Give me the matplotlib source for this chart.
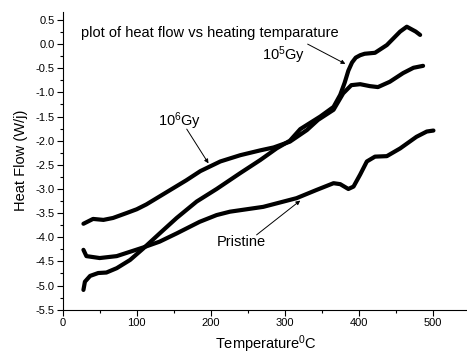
import matplotlib
matplotlib.use("Agg")
import matplotlib.pyplot as plt
from matplotlib.ticker import MultipleLocator, FormatStrFormatter

plt.rcParams['font.family'] = 'Liberation Sans'
plt.rcParams['mathtext.default'] = 'regular'
plt.rcParams['axes.unicode_minus'] = False

# 10^5 Gy
t_1e5 = [28, 30, 37, 48, 59, 73, 91, 109, 131, 154, 181, 208, 240, 267, 289, 307,
         321, 348, 366, 375, 381, 386, 391, 396, 402, 408, 422, 438, 456, 465, 477, 483]
hf_1e5 = [-5.09, -4.92, -4.80, -4.74, -4.73, -4.64, -4.47, -4.23, -3.92, -3.60, -3.26,
          -3.00, -2.67, -2.40, -2.16, -2.00, -1.76, -1.50, -1.30, -1.05, -0.80, -0.55,
          -0.38, -0.28, -0.23, -0.20, -0.18, -0.02, 0.26, 0.36, 0.26, 0.19]

# 10^6 Gy
t_1e6 = [28, 41, 55, 68, 86, 100, 113, 140, 167, 186, 213, 240, 267, 285, 307, 330,
         345, 366, 379, 390, 402, 415, 426, 442, 460, 474, 487]
hf_1e6 = [-3.72, -3.62, -3.64, -3.60, -3.50, -3.42, -3.32, -3.07, -2.82, -2.63, -2.43,
          -2.30, -2.20, -2.14, -2.02, -1.78, -1.57, -1.36, -1.02, -0.85, -0.83, -0.87,
          -0.89, -0.78, -0.60, -0.49, -0.45]

# pristine
t_pr = [28, 32, 50, 73, 91, 109, 131, 154, 185, 208, 226, 271, 316, 343, 366, 375,
        386, 393, 402, 411, 422, 438, 456, 478, 492, 501]
hf_pr = [-4.26, -4.39, -4.43, -4.39, -4.30, -4.21, -4.09, -3.92, -3.68, -3.54, -3.47,
         -3.37, -3.19, -3.02, -2.88, -2.90, -3.00, -2.95, -2.70, -2.43, -2.33, -2.32,
         -2.16, -1.92, -1.81, -1.79]

fig = plt.figure(figsize=(4.67, 3.56), dpi=100)
ax = fig.add_axes([0.1343, 0.130, 0.8715, 0.837])

for x, y in [(t_1e5, hf_1e5), (t_1e6, hf_1e6), (t_pr, hf_pr)]:
    ax.plot(x, y, color='black', lw=3.0, solid_capstyle='round', solid_joinstyle='round')

ax.set_xlim(0, 550)
ax.set_ylim(-5.5, 0.67)
ax.xaxis.set_major_locator(MultipleLocator(100))
ax.xaxis.set_minor_locator(MultipleLocator(50))
ax.yaxis.set_major_locator(MultipleLocator(0.5))
ax.yaxis.set_minor_locator(MultipleLocator(0.25))
ax.yaxis.set_major_formatter(FormatStrFormatter('%.1f'))
ax.spines['top'].set_visible(False)
ax.spines['right'].set_visible(False)
ax.tick_params(which='major', direction='out', length=4, width=0.8, labelsize=8, pad=2)
ax.tick_params(which='minor', direction='out', length=2, width=0.8)

ax.set_xlabel('Temperature$^0$C', fontsize=10.5, labelpad=4)
ax.set_ylabel('Heat Flow (W/j)', fontsize=10.5, labelpad=5)

ax.text(25, 0.23, 'plot of heat flow vs heating temparature', fontsize=10.5,
        va='center', ha='left')

ax.text(299, -0.22, '10$^5$Gy', fontsize=10.5, ha='center', va='center')
ax.text(158.5, -1.59, '10$^6$Gy', fontsize=10.5, ha='center', va='center')
ax.text(241.6, -4.10, 'Pristine', fontsize=10.5, ha='center', va='center')

arrow = dict(arrowstyle='-|>', color='black', lw=0.7, mutation_scale=6,
             shrinkA=0, shrinkB=0)
ax.annotate('', xy=(382, -0.41), xytext=(331, 0.0), arrowprops=arrow)
ax.annotate('', xy=(197, -2.47), xytext=(167.6, -1.76), arrowprops=arrow)
ax.annotate('', xy=(321, -3.24), xytext=(262, -3.95), arrowprops=arrow)

fig.savefig('out.png', dpi=100)
